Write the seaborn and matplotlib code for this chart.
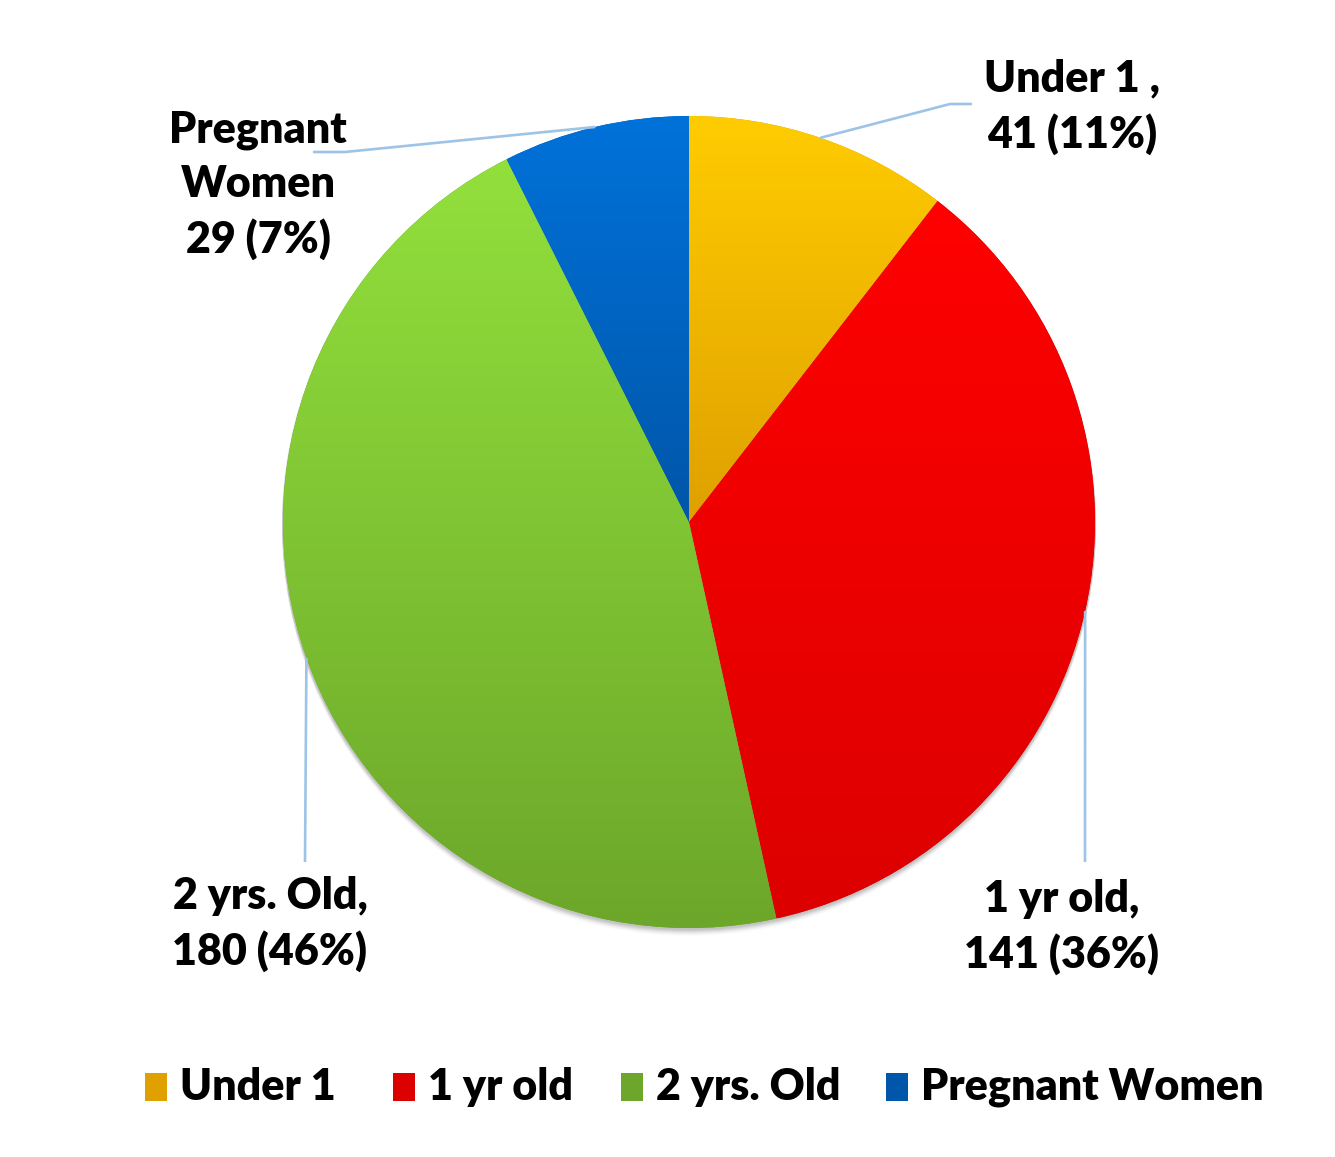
import matplotlib
matplotlib.use("Agg")
import matplotlib.pyplot as plt
import matplotlib.colors as mcolors
import numpy as np
import seaborn as sns

sns.set_theme(style="white")
plt.rcParams['font.family'] = ['Lato', 'DejaVu Sans']

# data
categories = ["Under 1", "1 yr old", "2 yrs. Old", "Pregnant Women"]
counts = [41, 141, 180, 29]
label_names = ["Under 1 ,", "1 yr old,", "2 yrs. Old,", "Pregnant\nWomen"]

# gradient colours (top -> bottom of each wedge)
top_colors = ["#FFCC00", "#FF0000", "#92E03C", "#0072DA"]
bottom_colors = ["#DFA000", "#DC0000", "#6CA62A", "#0056A8"]
line_color = "#9DC3E6"

W, H = 1335, 1157
fig = plt.figure(figsize=(W / 100, H / 100), dpi=100)
ax = fig.add_axes([0, 0, 1, 1])

cx, cy, r = 689, H - 522, 406

# soft shadow under the pie
for k, a in zip(range(1, 8), [0.05, 0.05, 0.045, 0.04, 0.03, 0.02, 0.015]):
    ax.add_patch(plt.Circle((cx, cy - k), r + 1, color="black", alpha=a, lw=0, zorder=0))

wedges, _ = ax.pie(counts, startangle=90, counterclock=False, center=(cx, cy),
                   radius=r, frame=True, wedgeprops=dict(linewidth=0))


def gradient_fill(patch, c_top, c_bot, extent):
    c1 = np.array(mcolors.to_rgb(c_top))
    c2 = np.array(mcolors.to_rgb(c_bot))
    t = np.linspace(0, 1, 256)[:, None]
    img = (c1 * (1 - t) + c2 * t)[:, None, :]
    im = ax.imshow(img, extent=extent, origin="upper", aspect="auto",
                   interpolation="bilinear", zorder=2)
    im.set_clip_path(patch)


for w, ct, cb in zip(wedges, top_colors, bottom_colors):
    w.set_facecolor(cb)
    v = w.get_path().vertices
    gradient_fill(w, ct, cb, (v[:, 0].min(), v[:, 0].max(), v[:, 1].min(), v[:, 1].max()))

# percentages rounded so they add up to 100 (largest remainder)
total = sum(counts)
raw = [100 * n / total for n in counts]
pcts = [int(np.floor(p)) for p in raw]
order = sorted(range(len(raw)), key=lambda i: raw[i] - pcts[i], reverse=True)
for i in order[:100 - sum(pcts)]:
    pcts[i] += 1

# data labels with leader lines
# (elbow point, line end, text centre) in pixel coords from the top
label_layout = [
    ((950, 104), (972, 104), (1072, 107)),
    ((1085, 862), (1085, 862), (1062, 927)),
    ((305, 862), (305, 862), (270, 924)),
    ((345, 152), (313, 152), (258, 185)),
]
for w, name, n, pct, (elbow, end, tc) in zip(wedges, label_names, counts, pcts, label_layout):
    mid = np.deg2rad((w.theta1 + w.theta2) / 2)
    sx, sy = cx + r * np.cos(mid), cy + r * np.sin(mid)
    ax.plot([sx, elbow[0], end[0]], [sy, H - elbow[1], H - end[1]],
            color=line_color, lw=1.9, zorder=3, solid_capstyle="butt")
    ax.text(tc[0], H - tc[1], f"{name}\n{n} ({pct}%)", ha="center", va="center",
            fontsize=31, fontweight="heavy", color="black", linespacing=1.42, zorder=4)

# legend with gradient swatches
legend_x = [145, 393, 621, 886]
ly = H - 1087
for x0, cat, ct, cb in zip(legend_x, categories, top_colors, bottom_colors):
    sq = plt.Rectangle((x0, ly - 14), 22, 28, lw=0, facecolor=cb, zorder=3)
    ax.add_patch(sq)
    gradient_fill(sq, ct, cb, (x0, x0 + 22, ly - 14, ly + 14))
    ax.text(x0 + 35, ly, cat, ha="left", va="center", fontsize=31,
            fontweight="heavy", color="black", zorder=4)

ax.set_xlim(0, W)
ax.set_ylim(0, H)
ax.set_aspect("auto")
ax.axis("off")

fig.savefig("out.png", dpi=100, facecolor="white")
